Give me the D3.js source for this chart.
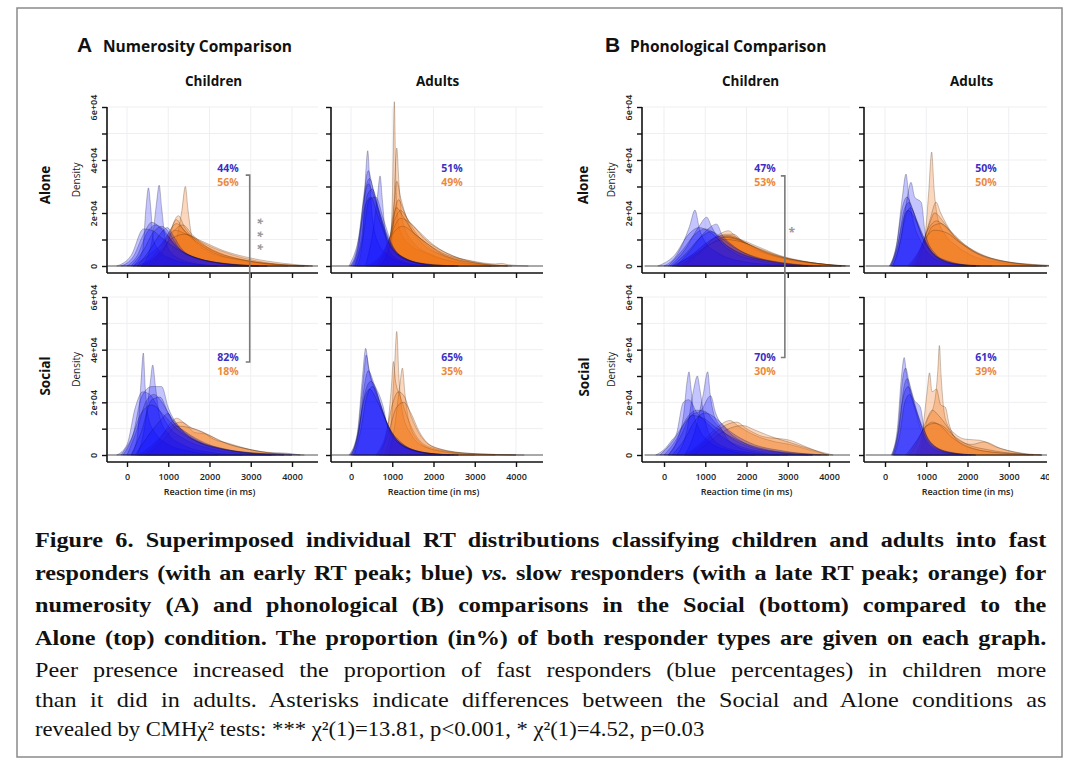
<!DOCTYPE html>
<html><head><meta charset="utf-8">
<script src="https://cdn.jsdelivr.net/npm/d3@7"></script>
<style>body{margin:0;background:#fff}svg{display:block}</style>
</head><body>
<svg id="c" width="1068" height="765"></svg>
<script>
// ---------- DATA (reaction time in ms, density in units of 1e+04) ----------
const xTicks = [0, 1000, 2000, 3000, 4000];
const yTicks = [0, 1, 2, 3, 4, 5, 6];
const yTickLabels = ["0", "", "2e+04", "", "4e+04", "", "6e+04"];
const panelNames = ["numChildAlone","numAdultAlone","numChildSocial","numAdultSocial","phonChildAlone","phonAdultAlone","phonChildSocial","phonAdultSocial"];
const pctFast = [44, 51, 82, 65, 47, 50, 70, 61];
const pctSlow = [56, 49, 18, 35, 53, 50, 30, 39];

const numChildAloneFast = [
 [[150,0],[380,0.6],[460,2.2],[520,2.95],[575,2.2],[640,1.0],[800,0.55],[1100,0.25],[1600,0.08],[2200,0]],
 [[350,0],[600,0.9],[710,2.3],[780,3.05],[840,2.2],[930,1.0],[1100,0.45],[1500,0.15],[2200,0]],
 [[-150,0],[150,0.35],[400,1.2],[600,1.65],[800,1.45],[1000,1.1],[1300,0.6],[1700,0.3],[2400,0.08],[3200,0]],
 [[0,0],[250,0.4],[500,1.3],[700,1.55],[900,1.35],[1150,0.8],[1500,0.4],[2100,0.15],[3000,0]],
 [[100,0],[400,0.6],[650,1.3],[850,1.5],[1000,1.3],[1250,0.7],[1700,0.3],[2500,0.08],[3400,0]],
 [[-250,0],[100,0.4],[400,1.4],[600,1.35],[850,1.05],[1100,0.75],[1500,0.4],[2200,0.12],[3200,0]],
 [[250,0],[550,0.6],[800,1.2],[980,1.45],[1100,1.2],[1350,0.6],[1800,0.25],[2600,0.05],[3400,0]]
];
const numChildAloneSlow = [
 [[850,0],[1150,0.7],[1330,2.1],[1415,3.0],[1480,2.1],[1580,1.1],[1900,0.6],[2600,0.25],[3400,0.08],[4200,0]],
 [[350,0],[750,0.45],[1050,1.35],[1245,1.9],[1400,1.45],[1700,0.95],[2200,0.5],[2900,0.2],[3800,0.05],[4500,0]],
 [[250,0],[650,0.4],[950,1.1],[1200,1.6],[1450,1.25],[1800,0.85],[2400,0.4],[3200,0.12],[4300,0]],
 [[450,0],[850,0.55],[1150,1.35],[1350,1.55],[1600,1.15],[2000,0.65],[2700,0.28],[3600,0.07],[4400,0]],
 [[150,0],[600,0.5],[950,1.0],[1150,1.35],[1500,1.15],[2000,0.75],[2600,0.4],[3400,0.12],[4300,0]],
 [[550,0],[950,0.75],[1200,1.75],[1350,1.4],[1650,0.95],[2100,0.5],[2900,0.2],[3900,0]],
 [[350,0],[800,0.5],[1100,1.05],[1400,1.2],[1800,0.95],[2300,0.6],[3000,0.3],[3800,0.1],[4500,0]]
];
const numAdultAloneFast = [
 [[150,0],[280,1.0],[360,3.6],[405,4.35],[450,3.4],[520,1.8],[650,0.9],[900,0.4],[1300,0.1],[1800,0]],
 [[350,0],[520,1.2],[640,2.6],[705,3.4],[760,2.5],[850,1.0],[1000,0.4],[1400,0.1],[1900,0]],
 [[0,0],[180,0.8],[320,2.8],[420,3.6],[520,3.0],[700,1.9],[900,0.9],[1200,0.35],[1700,0.08],[2300,0]],
 [[40,0],[200,0.9],[350,2.9],[450,3.3],[600,2.5],[800,1.5],[1000,0.75],[1300,0.3],[1900,0.05],[2500,0]],
 [[-20,0],[150,0.7],[300,2.4],[420,3.1],[560,2.6],[750,1.6],[950,0.8],[1300,0.3],[2000,0]],
 [[80,0],[250,1.0],[400,2.7],[520,2.9],[680,2.1],[880,1.1],[1100,0.5],[1500,0.15],[2200,0]],
 [[100,0],[280,1.0],[440,2.5],[600,2.6],[780,1.8],[1000,0.8],[1300,0.3],[1800,0.08],[2600,0]],
 [[-50,0],[150,0.8],[330,2.2],[480,2.6],[650,1.9],[900,0.9],[1200,0.35],[1800,0.08],[2600,0]]
];
const numAdultAloneSlow = [
 [[800,0],[950,0.8],[1010,3.0],[1050,6.2],[1090,3.0],[1160,1.5],[1350,0.9],[1800,0.5],[2500,0.15],[3400,0]],
 [[850,0],[1000,0.9],[1070,3.5],[1110,4.45],[1160,3.2],[1250,1.7],[1500,0.9],[2000,0.4],[2800,0.1],[3600,0]],
 [[700,0],[900,0.6],[1050,2.4],[1110,3.2],[1200,2.6],[1400,1.6],[1700,0.9],[2200,0.4],[3000,0.1],[3800,0]],
 [[650,0],[900,0.7],[1050,2.0],[1150,2.5],[1300,2.0],[1550,1.3],[1900,0.7],[2500,0.25],[3400,0]],
 [[600,0],[850,0.6],[1050,1.7],[1200,2.1],[1400,1.7],[1650,1.3],[2000,0.8],[2600,0.3],[3500,0]],
 [[500,0],[800,0.5],[1000,1.3],[1200,1.8],[1450,1.6],[1800,1.0],[2300,0.5],[3000,0.15],[3900,0]],
 [[400,0],[750,0.45],[1000,1.2],[1250,1.5],[1550,1.2],[1800,0.9],[2200,0.5],[2900,0.2],[3500,0.08],[3650,0.1],[3800,0.05],[4300,0]],
 [[700,0],[950,0.8],[1100,2.2],[1250,1.9],[1500,1.3],[1800,0.9],[2200,0.45],[3000,0.12],[3800,0]]
];
const numChildSocialFast = [
 [[100,0],[250,0.7],[340,2.8],[396,3.87],[440,2.6],[520,1.4],[700,0.8],[1000,0.4],[1500,0.15],[2200,0]],
 [[250,0],[420,1.0],[560,2.7],[623,3.42],[690,2.6],[800,1.4],[1000,0.8],[1400,0.35],[2000,0.1],[2800,0]],
 [[-250,0],[0,0.4],[200,1.8],[380,2.4],[550,2.3],[750,1.8],[1000,1.1],[1400,0.6],[2000,0.25],[2800,0.05],[3500,0]],
 [[-100,0],[150,0.8],[350,2.2],[600,2.6],[840,2.6],[1000,1.8],[1300,1.0],[1800,0.45],[2500,0.15],[3500,0]],
 [[0,0],[250,1.0],[450,2.0],[650,2.3],[850,2.0],[1100,1.3],[1500,0.7],[2100,0.3],[3000,0.08],[3800,0]],
 [[100,0],[350,0.9],[600,2.1],[800,2.2],[1000,1.6],[1300,1.0],[1700,0.55],[2300,0.25],[3200,0.06],[4000,0]],
 [[200,0],[500,0.7],[800,1.3],[1000,1.58],[1100,1.3],[1400,0.9],[1900,0.45],[2600,0.15],[3600,0]],
 [[-150,0],[100,0.6],[350,1.6],[600,1.9],[900,1.5],[1200,1.0],[1700,0.5],[2400,0.2],[3300,0.06],[3700,0.08],[4200,0]]
];
const numChildSocialSlow = [
 [[400,0],[800,0.6],[1050,1.2],[1200,1.4],[1400,1.2],[1650,0.85],[1900,0.8],[2300,0.5],[3000,0.2],[3800,0]],
 [[300,0],[700,0.5],[1000,1.0],[1300,1.25],[1600,1.0],[1850,0.85],[2100,0.6],[2450,0.45],[3000,0.2],[4000,0]],
 [[500,0],[900,0.6],[1200,1.1],[1500,1.05],[1800,0.9],[2000,0.75],[2400,0.45],[3000,0.2],[3800,0.05],[4300,0]]
];
const numAdultSocialFast = [
 [[-50,0],[150,0.8],[280,3.0],[356,4.05],[420,3.4],[550,2.6],[700,1.9],[900,1.1],[1200,0.5],[1700,0.12],[2400,0]],
 [[0,0],[170,0.9],[300,2.9],[370,3.8],[450,3.1],[620,2.4],[800,1.5],[1000,0.8],[1300,0.35],[1900,0.05],[2500,0]],
 [[50,0],[200,1.0],[320,2.6],[420,3.2],[560,2.7],[740,1.8],[950,0.9],[1250,0.35],[1800,0.08],[2600,0]],
 [[20,0],[180,0.9],[330,2.3],[480,2.8],[620,2.5],[780,1.84],[900,1.0],[1200,0.4],[1800,0.08],[2600,0]],
 [[80,0],[230,0.9],[380,2.2],[520,2.6],[700,2.0],[900,1.1],[1150,0.5],[1600,0.15],[2400,0]],
 [[-20,0],[160,0.7],[300,2.0],[450,2.5],[650,2.0],[850,1.3],[1100,0.6],[1500,0.2],[2200,0]]
];
const numAdultSocialSlow = [
 [[800,0],[950,0.8],[1050,3.2],[1109,4.69],[1160,3.0],[1250,1.6],[1450,0.8],[1800,0.3],[2500,0.08],[3500,0]],
 [[900,0],[1050,1.0],[1180,2.6],[1246,3.3],[1310,2.3],[1400,1.3],[1600,0.6],[2000,0.2],[3000,0]],
 [[700,0],[880,1.0],[980,2.6],[1027,3.55],[1080,2.8],[1200,2.2],[1350,1.5],[1550,0.8],[1900,0.3],[2800,0.06],[4000,0]],
 [[600,0],[850,0.8],[1000,1.9],[1150,2.4],[1300,2.2],[1450,1.5],[1700,0.7],[2100,0.25],[3000,0.05],[4200,0]],
 [[650,0],[900,0.8],[1100,1.8],[1280,2.0],[1450,1.6],[1650,0.9],[1950,0.35],[2700,0.08],[4000,0]]
];
const phonChildAloneFast = [
 [[0,0],[300,0.4],[620,1.5],[751,2.11],[860,1.4],[1000,0.9],[1300,0.5],[1800,0.2],[2600,0.05],[3300,0]],
 [[150,0],[500,0.6],[850,1.5],[1035,1.84],[1150,1.5],[1350,0.95],[1700,0.5],[2300,0.2],[3200,0]],
 [[300,0],[650,0.6],[1000,1.3],[1277,1.58],[1400,1.2],[1650,0.8],[2000,0.45],[2700,0.15],[3600,0]],
 [[-150,0],[250,0.4],[600,1.2],[850,1.45],[1100,1.3],[1400,0.9],[1800,0.5],[2500,0.2],[3500,0]],
 [[100,0],[450,0.6],[750,1.2],[1000,1.4],[1250,1.2],[1500,0.8],[1900,0.45],[2600,0.15],[3500,0]],
 [[200,0],[550,0.5],[900,1.1],[1150,1.3],[1400,1.05],[1700,0.7],[2200,0.35],[3000,0.1],[3800,0]]
];
const phonChildAloneSlow = [
 [[300,0],[750,0.5],[1150,1.0],[1400,1.25],[1560,1.33],[1750,1.1],[2100,0.7],[2600,0.4],[3200,0.2],[4000,0.05],[4400,0]],
 [[400,0],[850,0.55],[1250,1.05],[1500,1.2],[1680,1.2],[1900,0.95],[2300,0.6],[2900,0.3],[3600,0.12],[4300,0]],
 [[250,0],[700,0.45],[1100,0.95],[1450,1.15],[1800,1.0],[2200,0.7],[2700,0.4],[3300,0.18],[4100,0.04],[4500,0]],
 [[500,0],[900,0.5],[1300,1.0],[1600,1.15],[1900,0.95],[2300,0.6],[2970,0.25],[3600,0.1],[4300,0]],
 [[350,0],[800,0.45],[1200,0.9],[1550,1.1],[1850,1.0],[2250,0.75],[2800,0.4],[3400,0.18],[4200,0]],
 [[450,0],[900,0.55],[1300,1.1],[1650,1.05],[2000,0.85],[2500,0.5],[3100,0.25],[3800,0.08],[4400,0]],
 [[200,0],[700,0.4],[1150,0.85],[1500,1.0],[1900,0.9],[2400,0.6],[2900,0.33],[3600,0.12],[4300,0]]
];
const phonAdultAloneFast = [
 [[100,0],[280,0.8],[420,2.6],[509,3.47],[580,2.6],[700,1.6],[880,0.9],[1100,0.4],[1500,0.1],[2200,0]],
 [[200,0],[380,1.0],[530,2.5],[630,3.16],[720,2.6],[880,2.4],[980,1.2],[1200,0.5],[1600,0.1],[2300,0]],
 [[120,0],[280,0.8],[420,2.2],[530,2.6],[680,2.1],[850,1.3],[1000,0.8],[1300,0.3],[1900,0.05],[2600,0]],
 [[150,0],[320,0.9],[460,2.1],[580,2.4],[720,1.9],[900,1.1],[1100,0.55],[1400,0.2],[2000,0]],
 [[180,0],[350,0.8],[500,1.9],[620,2.2],[780,1.7],[953,1.04],[1150,0.5],[1500,0.15],[2200,0]],
 [[140,0],[300,0.7],[450,1.8],[560,2.1],[720,1.8],[900,1.2],[1100,0.6],[1500,0.2],[2200,0]]
];
const phonAdultAloneSlow = [
 [[800,0],[950,0.8],[1060,2.8],[1131,4.3],[1190,2.9],[1280,1.8],[1450,1.2],[1700,0.8],[2100,0.4],[2800,0.12],[3700,0]],
 [[700,0],[900,0.7],[1100,1.8],[1236,2.41],[1350,2.0],[1600,1.3],[1900,0.8],[2300,0.4],[3000,0.12],[3800,0]],
 [[650,0],[880,0.7],[1080,1.6],[1200,2.0],[1400,1.7],[1650,1.15],[2000,0.7],[2500,0.3],[3300,0.08],[3900,0]],
 [[600,0],[850,0.6],[1050,1.4],[1250,1.7],[1450,1.5],[1700,1.1],[2160,0.56],[2800,0.2],[3600,0.05],[4200,0]],
 [[750,0],[950,0.8],[1150,1.5],[1350,1.6],[1600,1.3],[1900,0.85],[2400,0.4],[3100,0.12],[4000,0]],
 [[550,0],[800,0.5],[1000,1.1],[1200,1.35],[1500,1.25],[1800,0.9],[2200,0.5],[2900,0.18],[3800,0.04],[4400,0]]
];
const phonChildSocialFast = [
 [[100,0],[300,0.5],[480,1.6],[560,2.8],[606,3.16],[650,2.6],[720,1.6],[850,1.0],[1100,0.5],[1500,0.2],[2200,0]],
 [[300,0],[550,0.9],[720,2.5],[808,3.0],[870,2.5],[960,1.6],[1100,0.8],[1400,0.35],[2000,0.1],[2800,0]],
 [[500,0],[750,0.9],[950,2.3],[1059,3.16],[1120,2.3],[1200,1.6],[1357,1.1],[1600,0.5],[2100,0.15],[3000,0]],
 [[-200,0],[60,0.3],[186,0.56],[300,0.8],[468,2.0],[600,2.1],[800,1.6],[1050,1.2],[1400,0.7],[1900,0.3],[2700,0.08],[3500,0]],
 [[0,0],[300,0.6],[550,1.4],[800,1.7],[1000,1.65],[1200,1.3],[1500,0.8],[2000,0.35],[2800,0.1],[3600,0]],
 [[100,0],[400,0.7],[650,1.5],[900,1.7],[1130,2.25],[1250,1.6],[1500,1.0],[1900,0.5],[2700,0.12],[3600,0]],
 [[200,0],[500,0.6],[750,1.3],[1000,1.6],[1250,1.4],[1600,0.9],[2100,0.45],[2900,0.15],[3800,0]],
 [[-100,0],[200,0.5],[450,1.1],[700,1.5],[950,1.4],[1300,1.0],[1800,0.55],[2500,0.2],[3400,0.05],[4000,0]]
];
const phonChildSocialSlow = [
 [[500,0],[900,0.45],[1250,1.0],[1600,1.31],[1800,1.1],[2200,0.75],[2700,0.5],[3050,0.4],[3500,0.2],[4000,0]],
 [[600,0],[1000,0.5],[1400,1.05],[1760,1.25],[2000,1.0],[2400,0.7],[3050,0.56],[3460,0.3],[3950,0]],
 [[700,0],[1100,0.5],[1500,0.95],[1915,1.12],[2200,0.95],[2600,0.7],[3100,0.45],[3600,0.2],[4100,0]]
];
const phonAdultSocialFast = [
 [[150,0],[300,1.0],[400,3.0],[465,3.7],[520,3.1],[620,2.3],[720,1.8],[860,1.0],[1050,0.4],[1400,0.1],[2000,0]],
 [[185,0],[320,1.0],[420,2.8],[500,3.3],[600,2.6],[700,1.94],[860,1.2],[1000,0.6],[1300,0.2],[1900,0]],
 [[200,0],[340,1.0],[450,2.5],[540,2.9],[650,2.4],[780,1.6],[900,1.0],[1100,0.45],[1500,0.1],[2100,0]],
 [[170,0],[320,0.9],[440,2.2],[560,2.6],[700,2.1],[860,1.8],[950,1.0],[1150,0.4],[1600,0.1],[2200,0]],
 [[220,0],[360,0.8],[480,2.0],[600,2.3],[740,1.8],[900,1.1],[1100,0.5],[1500,0.12],[2200,0]]
];
const phonAdultSocialSlow = [
 [[850,0],[1000,1.2],[1200,2.0],[1280,3.2],[1318,4.16],[1360,3.0],[1420,1.8],[1500,1.2],[1700,0.8],[1950,0.6],[2300,0.56],[2700,0.3],[3200,0.1],[3800,0]],
 [[750,0],[900,0.8],[1020,2.4],[1080,3.12],[1140,2.4],[1248,2.5],[1350,1.9],[1464,1.81],[1550,1.2],[1750,0.6],[2100,0.4],[2400,0.5],[2800,0.25],[3500,0]],
 [[600,0],[850,0.7],[1000,1.3],[1150,1.7],[1300,1.5],[1500,1.1],[1740,0.56],[2100,0.25],[2800,0.08],[3600,0]],
 [[500,0],[750,0.5],[950,1.0],[1150,1.25],[1350,1.1],[1600,0.7],[1900,0.4],[2400,0.15],[3200,0.04],[3800,0]],
 [[550,0],[800,0.6],[1000,1.1],[1200,1.2],[1400,1.1],[1650,0.75],[2000,0.4],[2500,0.2],[3200,0.05],[3800,0]]
];

const fastSets = [numChildAloneFast, numAdultAloneFast, numChildSocialFast, numAdultSocialFast, phonChildAloneFast, phonAdultAloneFast, phonChildSocialFast, phonAdultSocialFast];
const slowSets = [numChildAloneSlow, numAdultAloneSlow, numChildSocialSlow, numAdultSocialSlow, phonChildAloneSlow, phonAdultAloneSlow, phonChildSocialSlow, phonAdultSocialSlow];

const captionLines = [
 {bold:true, justify:true, parts:[{t:"Figure 6. Superimposed individual RT distributions classifying children and adults into fast"}]},
 {bold:true, justify:true, parts:[{t:"responders (with an early RT peak; blue) "},{t:"vs.",i:true},{t:" slow responders (with a late RT peak; orange) for"}]},
 {bold:true, justify:true, parts:[{t:"numerosity (A) and phonological (B) comparisons in the Social (bottom) compared to the"}]},
 {bold:true, justify:true, parts:[{t:"Alone (top) condition. The proportion (in%) of both responder types are given on each graph."}]},
 {bold:false, justify:true, parts:[{t:"Peer presence increased the proportion of fast responders (blue percentages) in children more"}]},
 {bold:false, justify:true, parts:[{t:"than it did in adults. Asterisks indicate differences between the Social and Alone conditions as"}]},
 {bold:false, justify:false, parts:[{t:"revealed by CMH\u03C7\u00B2 tests: *** \u03C7\u00B2(1)=13.81, p<0.001, *  \u03C7\u00B2(1)=4.52, p=0.03"}]}
];

// ---------- LAYOUT ----------
const svg = d3.select("#c");
const SANS = "'Open Sans', 'Noto Sans', sans-serif";
const cols = {
  numChild:  {left:107, zero:127, right:318},
  numAdult:  {left:331, zero:351, right:543},
  phonChild: {left:642, zero:664, right:850},
  phonAdult: {left:864, zero:885, right:1047}
};
const rows = {
  alone:  {y0:266, y6:107, axis:273},
  social: {y0:455, y6:297, axis:462}
};
const panelCol = ["numChild","numAdult","numChild","numAdult","phonChild","phonAdult","phonChild","phonAdult"];
const panelRow = ["alone","alone","social","social","alone","alone","social","social"];

svg.append("rect").attr("x",17).attr("y",8).attr("width",1045).attr("height",749)
  .attr("fill","none").attr("stroke","#8a8a8a").attr("stroke-width",1.5);

svg.append("defs").append("clipPath").attr("id","clipR")
  .append("rect").attr("x",0).attr("y",0).attr("width",1049).attr("height",765);

const scales = {};
panelNames.forEach((name, i) => {
  const col = cols[panelCol[i]], row = rows[panelRow[i]];
  const x = d3.scaleLinear().domain([0,4000]).range([col.zero, col.zero+165]);
  const y = d3.scaleLinear().domain([0,6]).range([row.y0, row.y6]);
  scales[name] = {x, y};
  const g = svg.append("g");
  if (panelCol[i] === "phonAdult") g.attr("clip-path","url(#clipR)");

  // faint grid
  g.append("g").selectAll("line").data(xTicks).join("line")
    .attr("x1",d=>x(d)).attr("x2",d=>x(d)).attr("y1",y(6)).attr("y2",y(0))
    .attr("stroke","#efeff2").attr("stroke-width",1);
  g.append("g").selectAll("line").data(yTicks).join("line")
    .attr("x1",col.left).attr("x2",col.right).attr("y1",d=>y(d)).attr("y2",d=>y(d))
    .attr("stroke","#efeff2").attr("stroke-width",1);

  const area = d3.area().x(d=>x(d[0])).y0(y(0)).y1(d=>y(d[1])).curve(d3.curveMonotoneX);
  // slow responders (orange) first, fast (blue) on top
  g.append("g").selectAll("path").data(slowSets[i]).join("path")
    .attr("d",area).attr("fill","rgb(240,112,10)").attr("fill-opacity",0.27)
    .attr("stroke","#3a1a00").attr("stroke-opacity",0.38).attr("stroke-width",0.7);
  g.append("g").selectAll("path").data(fastSets[i]).join("path")
    .attr("d",area).attr("fill","rgb(10,10,250)").attr("fill-opacity",0.24)
    .attr("stroke","#0a0a30").attr("stroke-opacity",0.38).attr("stroke-width",0.7);

  // baseline of the density polygons
  g.append("line").attr("x1",x(-470)).attr("x2",col.right).attr("y1",y(0)).attr("y2",y(0))
    .attr("stroke","#333").attr("stroke-width",0.8);

  // y axis
  const ya = g.append("g").attr("transform",`translate(${col.left},0)`)
    .call(d3.axisLeft(y).tickValues(yTicks).tickSize(5).tickFormat((d,k)=> panelCol[i].endsWith("Child") ? yTickLabels[k] : ""));
  ya.select(".domain").remove();
  ya.selectAll("line").attr("stroke","#111").attr("stroke-width",1.4);
  ya.selectAll("text").attr("transform","rotate(-90)").attr("x",0).attr("y",-10).attr("dy",0)
    .style("text-anchor","middle").attr("font-family",SANS).attr("font-size",9).attr("font-weight",600).attr("fill","#222");
  g.append("line").attr("x1",col.left).attr("x2",col.left).attr("y1",y(6)).attr("y2",row.axis)
    .attr("stroke","#111").attr("stroke-width",1.6);

  // x axis
  const social = panelRow[i] === "social";
  const xa = g.append("g").attr("transform",`translate(0,${row.axis})`)
    .call(d3.axisBottom(x).tickValues(xTicks).tickSize(5).tickFormat(d=> social ? d : ""));
  xa.select(".domain").remove();
  xa.selectAll("line").attr("stroke","#111").attr("stroke-width",1.4);
  xa.selectAll("text").attr("y",12).attr("font-family",SANS).attr("font-size",9).attr("font-weight",600).attr("fill","#222");
  g.append("line").attr("x1",col.left).attr("x2",col.right).attr("y1",row.axis).attr("y2",row.axis)
    .attr("stroke","#111").attr("stroke-width",1.6);
  if (social) {
    g.append("text").attr("x",x(2000)).attr("y",row.axis+33).attr("text-anchor","middle")
      .attr("font-family",SANS).attr("font-size",9).attr("font-weight",600).attr("fill","#222")
      .text("Reaction time (in ms)");
  }
  if (panelCol[i].endsWith("Child")) {
    g.append("text").attr("transform",`translate(${col.left-27},${y(3.25)}) rotate(-90)`)
      .attr("text-anchor","middle").attr("font-family",SANS).attr("font-size",10).attr("fill","#222")
      .text("Density");
  }

  // percentages
  g.append("text").attr("x",x(2450)).attr("y",y(3.7)).attr("dy","0.35em").attr("text-anchor","middle")
    .attr("font-family",SANS).attr("font-size",10.5).attr("font-weight",700).attr("fill","#3b2fc4")
    .text(pctFast[i] + "%");
  g.append("text").attr("x",x(2450)).attr("y",y(3.17)).attr("dy","0.35em").attr("text-anchor","middle")
    .attr("font-family",SANS).attr("font-size",10.5).attr("font-weight",700).attr("fill","#ec8a3c")
    .text(pctSlow[i] + "%");
});

// ---------- Significance brackets ----------
function bracket(top, bot, msX, dTop, dBot) {
  const xs = scales[top].x(msX), y1 = scales[top].y(dTop), y2 = scales[bot].y(dBot);
  svg.append("path").attr("d",`M${xs-4},${y1}H${xs}V${y2}H${xs-4}`)
    .attr("fill","none").attr("stroke","#7a7a7a").attr("stroke-width",1.6);
}
bracket("numChildAlone","numChildSocial",2975,3.43,3.53);
bracket("phonChildAlone","phonChildSocial",2930,3.4,3.7);
// three stacked asterisks, written as one vertical text
const starMid = (scales.numChildAlone.y(1.66) + scales.numChildAlone.y(0.68)) / 2;
svg.append("text")
  .attr("transform",`translate(${scales.numChildAlone.x(3170)-5},${starMid}) rotate(90)`)
  .attr("text-anchor","middle").attr("font-family",SANS).attr("font-size",12).attr("font-weight",700)
  .attr("letter-spacing",1.6).attr("fill","#999").text("* * *");
svg.append("text").attr("x",scales.phonChildAlone.x(3100)).attr("y",scales.phonChildAlone.y(1.28)+5)
  .attr("text-anchor","middle").attr("font-family",SANS).attr("font-size",12).attr("font-weight",700)
  .attr("fill","#999").text("*");

// ---------- Titles ----------
svg.append("text").attr("x",77).attr("y",52).attr("font-family","'Liberation Sans', Arial, sans-serif")
  .attr("font-size",21).attr("font-weight",700).attr("fill","#111").text("A");
svg.append("text").attr("x",103).attr("y",52).attr("font-family",SANS)
  .attr("font-size",15.5).attr("font-weight",700).attr("fill","#111").text("Numerosity Comparison");
svg.append("text").attr("x",605).attr("y",52).attr("font-family","'Liberation Sans', Arial, sans-serif")
  .attr("font-size",21).attr("font-weight",700).attr("fill","#111").text("B");
svg.append("text").attr("x",630).attr("y",52).attr("font-family",SANS)
  .attr("font-size",15.5).attr("font-weight",700).attr("fill","#111").text("Phonological Comparison");

[["numChildAlone","Children"],["numAdultAlone","Adults"],["phonChildAlone","Children"],["phonAdultAlone","Adults"]].forEach(([p,t])=>{
  svg.append("text").attr("x",scales[p].x(2100)).attr("y",86).attr("text-anchor","middle")
    .attr("font-family",SANS).attr("font-size",13.5).attr("font-weight",700).attr("fill","#111").text(t);
});
[[50,185,"Alone"],[50,376,"Social"],[588,185,"Alone"],[589,377,"Social"]].forEach(([xx,yy,t])=>{
  svg.append("text").attr("transform",`translate(${xx},${yy}) rotate(-90)`).attr("text-anchor","middle")
    .attr("font-family",SANS).attr("font-size",13.5).attr("font-weight",700).attr("fill","#111").text(t);
});

// ---------- Caption (justified) ----------
const baselines = [547, 580, 612, 645, 677, 707, 736];
captionLines.forEach((ln, k) => {
  const t = svg.append("text").attr("x",0).attr("y",0)
    .attr("font-family","'Liberation Serif', 'DejaVu Serif', serif").attr("font-size",22)
    .attr("font-weight", ln.bold ? 700 : 400).attr("fill","#111");
  ln.parts.forEach(p => t.append("tspan").attr("font-style", p.i ? "italic" : null).text(p.t));
  const w = t.node().getComputedTextLength();
  let s = 1.03;
  if (ln.justify) {
    s = Math.min(1012 / w, 1.1);
    const n = (ln.parts.map(p=>p.t).join("").match(/ /g) || []).length;
    t.attr("word-spacing", ((1012 / s - w) / n).toFixed(2));
  }
  t.attr("transform", `translate(35,${baselines[k]}) scale(${s.toFixed(4)},1)`);
});
</script>
</body></html>
